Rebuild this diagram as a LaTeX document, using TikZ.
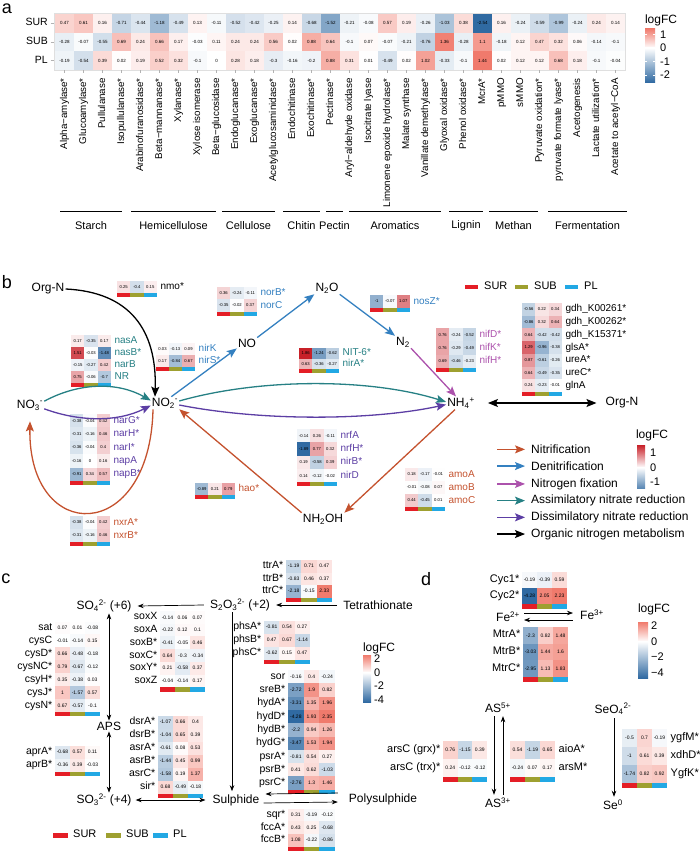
\documentclass[tikz,border=0pt]{standalone}
\usepackage{fontspec}
\setmainfont{Liberation Sans}
\usetikzlibrary{arrows.meta,calc}

\definecolor{nitrc}{RGB}{196,82,46}
\definecolor{denitc}{RGB}{52,128,192}
\definecolor{fixc}{RGB}{172,82,172}
\definecolor{assimc}{RGB}{38,128,132}
\definecolor{dissimc}{RGB}{92,62,164}
\definecolor{surc}{RGB}{228,30,38}
\definecolor{subc}{RGB}{158,160,48}
\definecolor{plc}{RGB}{34,168,228}
\definecolor{palered}{RGB}{240,122,108}
\definecolor{deepred}{RGB}{200,32,40}
\definecolor{steelb}{RGB}{48,106,162}

\newcommand{\hmcell}[5]{%
  \pgfmathtruncatemacro\hmisneg{(#5)<0}%
  \ifnum\hmisneg=1
    \pgfmathsetmacro\hmpct{min(100,100*abs(#5)/\hmnegmax)}%
    \colorlet{cellc}{hmneg!\hmpct!white}%
  \else
    \pgfmathsetmacro\hmpct{min(100,100*abs(#5)/\hmposmax)}%
    \colorlet{cellc}{hmpos!\hmpct!white}%
  \fi
  \fill[cellc] ({#1},{#2}) rectangle ++(#3,#4);
  \node[cellnum] at ({#1+#3/2},{#2+#4/2}) {#5};
}

% x, y, cell width, cell height, label side (l/r), label colour, rows
\newcommand{\genemap}[7]{%
  \foreach \gn/\va/\vb/\vc [count=\ri from 0] in {#7}{
    \hmcell{#1}{#2+\ri*#4}{#3}{#4}{\va}
    \hmcell{#1+#3}{#2+\ri*#4}{#3}{#4}{\vb}
    \hmcell{#1+2*#3}{#2+\ri*#4}{#3}{#4}{\vc}
    \ifx l#5
      \node[genelbl,text=#6,anchor=mid east] at ({#1-1.5},{#2+\ri*#4+#4/2}) {\gn};
    \else
      \node[genelbl,text=#6,anchor=mid west] at ({#1+3*#3+2.5},{#2+\ri*#4+#4/2}) {\gn};
    \fi
    \xdef\hmlast{\ri}
  }
  \pgfmathsetmacro\hmsy{#2+(\hmlast+1)*#4}
  \fill[surc] ({#1},\hmsy) rectangle ++(#3,\hmstrip);
  \fill[subc] ({#1+#3},\hmsy) rectangle ++(#3,\hmstrip);
  \fill[plc] ({#1+2*#3},\hmsy) rectangle ++(#3,\hmstrip);
}

\tikzset{
  every node/.style={inner sep=1pt},
  plab/.style={font=\fontsize{18}{19}\selectfont},
  spec/.style={font=\fontsize{12}{13}\selectfont},
  legtxt/.style={font=\fontsize{12}{13}\selectfont},
  smalltxt/.style={font=\fontsize{11}{12}\selectfont},
  barrow/.style={line width=1.3pt,-{Stealth[length=10pt,width=8pt,inset=2pt]}},
  bdarrow/.style={line width=1.3pt,{Stealth[length=10pt,width=8pt,inset=2pt]}-{Stealth[length=10pt,width=8pt,inset=2pt]}},
  carrow/.style={line width=0.7pt,-{Stealth[length=6pt,width=4.5pt]}},
  cdarrow/.style={line width=0.7pt,{Stealth[length=6pt,width=4.5pt]}-{Stealth[length=6pt,width=4.5pt]}}
}

\begin{document}
\begin{tikzpicture}[x=1pt,y=-1pt]
\useasboundingbox (0,0) rectangle (700,853);

% ---------------- a
\node[plab] (la) at (7,9) {a};
\begin{scope}[cellnum/.style={font=\fontsize{4.5}{5}\selectfont},
  collbl/.style={font=\fontsize{9.8}{10}\selectfont,rotate=90,anchor=mid east}]
\def\hmposmax{1.44}\def\hmnegmax{2.54}
\colorlet{hmpos}{palered}\colorlet{hmneg}{steelb}
\draw[gray!25,fill=gray!10] (54.5,13.5) rectangle (625.5,70.3);
\foreach \lab/\vs/\vu/\vp [count=\i from 0] in {
  Alpha−amylase*/0.47/-0.28/-0.19, Glucoamylase*/0.61/-0.07/-0.54, Pullulanase/0.16/-0.55/0.39,
  Isopullulanase*/-0.71/0.69/0.02, Arabinofuranosidase*/-0.44/0.24/0.19, Beta−mannanase*/-1.18/0.66/0.52,
  Xylanase*/-0.49/0.17/0.32, Xylose isomerase/0.13/-0.03/-0.1, Beta−glucosidase/-0.11/0.11/0,
  Endoglucanase*/-0.52/0.24/0.28, Exoglucanase*/-0.42/0.24/0.18, Acetylglucosaminidase*/-0.25/0.56/-0.3,
  Endochitinase/0.14/0.02/-0.16, Exochitinase*/-0.68/0.88/-0.2, Pectinase*/-1.52/0.64/0.88,
  Aryl−aldehyde oxidase/-0.21/-0.1/0.31, Isocitrate lyase/-0.08/0.07/0.01, Limonene epoxide hydrolase*/0.57/-0.07/-0.49,
  Malate synthase/0.19/-0.21/0.02, Vanillate demethylase*/-0.26/-0.76/1.02, Glyoxal oxidase*/-1.03/1.36/-0.33,
  Phenol oxidase*/0.38/-0.28/-0.1, McrA*/-2.54/1.1/1.44, pMMO/0.16/-0.18/0.02,
  sMMO/-0.24/0.12/0.12, Pyruvate oxidation*/-0.59/0.47/0.12, pyruvate formate lyase*/-0.99/0.32/0.68,
  Acetogenesis/-0.24/0.06/0.18, Lactate utilization*/0.24/-0.14/-0.1, Acetate to acetyl−CoA/0.14/-0.1/-0.04}{
  \pgfmathsetmacro\cx{55+19*\i}
  \hmcell{\cx}{14}{19}{18.7}{\vs}
  \hmcell{\cx}{32.7}{19}{18.7}{\vu}
  \hmcell{\cx}{51.4}{19}{18.7}{\vp}
  \draw[gray!60] ({\cx+9.5},70.3) -- ++(0,3);
  \node[collbl] at ({\cx+9.5},77) {\lab};
}
\foreach \rl/\ry in {SUR/23.3,SUB/42,PL/60.7}{
  \node[font=\fontsize{10.5}{11}\selectfont,anchor=mid east] at (49,\ry) {\rl};
  \draw[gray!60] (50.5,\ry) -- (54,\ry);
}
\foreach \xa/\xb/\cat in {60/122/Starch,131/216/Hemicellulose,222/275/Cellulose,283/320/Chitin,
  326/343/Pectin,349/441/Aromatics,449/483/Lignin,489/538/Methan,548/627/Fermentation}{
  \draw[line width=0.7pt] (\xa,211) -- (\xb,211);
  \node[smalltxt] at ({(\xa+\xb)/2},226) {\cat};
}
% legend
\node[legtxt] (lgA) at (661,20) {logFC};
\shade[top color=palered,bottom color=white] (645,28.6) rectangle (655,48);
\shade[top color=white,bottom color=steelb] (645,48) rectangle (655,82.3);
\foreach \lv/\ly in {1/34.5,0/48,-1/61.5,-2/75}{
  \draw[white] (645,\ly) -- ++(2,0) (655,\ly) -- ++(-2,0);
  \node[smalltxt,anchor=west] at (659,\ly) {\lv};
}
\end{scope}

% ---------------- b
\node[plab] (lb) at (7,282) {b};
\begin{scope}[cellnum/.style={font=\fontsize{4.2}{5}\selectfont},
  genelbl/.style={font=\fontsize{10}{11}\selectfont}]
\def\hmposmax{1.86}\def\hmnegmax{1.89}\def\hmstrip{4}
\colorlet{hmpos}{deepred}\colorlet{hmneg}{steelb}
\genemap{117}{281}{13.3}{12}{r}{black}{nmo*/0.25/-0.4/0.15}
\genemap{217}{287}{13.3}{12.3}{r}{denitc}{norB*/0.36/-0.24/-0.11,norC/-0.35/-0.02/0.37}
\genemap{370}{295}{13.3}{13}{r}{denitc}{nosZ*/-1/-0.07/1.07}
\genemap{156}{343}{13}{12}{r}{denitc}{nirK/0.03/-0.13/0.09,nirS*/0.17/-0.84/0.67}
\genemap{71}{335}{13.3}{12}{r}{assimc}{nasA/0.17/-0.35/0.17,nasB*/1.51/-0.03/-1.48,narB/-0.15/-0.27/0.42,NR/0.75/-0.06/-0.7}
\genemap{299}{348}{13.3}{10.5}{r}{assimc}{NIT-6*/1.86/-1.24/-0.62,nirA*/0.63/-0.36/-0.27}
\genemap{70}{414}{13.3}{13.4}{r}{dissimc}{narG*/-0.38/-0.04/0.42,narH*/-0.31/-0.16/0.46,narI*/-0.36/-0.04/0.4,napA/-0.16/0/0.16,napB*/-0.91/0.34/0.57}
\genemap{70}{516}{13.3}{13}{r}{nitrc}{nxrA*/-0.38/-0.04/0.42,nxrB*/-0.31/-0.16/0.46}
\genemap{195}{483}{13.3}{12}{r}{nitrc}{hao*/-0.89/0.21/0.79}
\genemap{297}{429}{13.3}{13.3}{r}{dissimc}{nrfA/-0.14/0.26/-0.11,nrfH*/-1.89/0.77/0.32,nirB*/0.19/-0.58/0.39,nirD/0.14/-0.12/-0.02}
\genemap{405}{468}{13.3}{13}{r}{nitrc}{amoA/0.18/-0.17/-0.01,amoB/-0.01/-0.08/0.07,amoC/0.44/-0.45/0.01}
\genemap{436}{328}{13.3}{13.3}{r}{fixc}{nifD*/0.76/-0.24/-0.52,nifK*/0.76/-0.29/-0.49,nifH*/0.69/-0.46/-0.23}
\genemap{522}{303}{13.3}{12.7}{r}{black}{gdh\_K00261*/-0.56/0.22/0.34,gdh\_K00262*/-0.86/0.32/0.64,gdh\_K15371*/0.64/-0.42/-0.42,glsA*/1.29/-0.96/-0.38,ureA*/0.87/-0.61/-0.26,ureC*/0.64/-0.49/-0.35,glnA/0.24/-0.23/-0.01}
\end{scope}

\node[spec] (orgN) at (48,289) {Org-N};
\node[spec] (no3) at (30,405) {NO\textsubscript{3}\textsuperscript{-}};
\node[spec] (no2) at (165,403) {NO\textsubscript{2}\textsuperscript{-}};
\node[spec] (no) at (247,343) {NO};
\node[spec] (n2o) at (327,288) {N\textsubscript{2}O};
\node[spec] (n2) at (403,342) {N\textsubscript{2}};
\node[spec] (nh4) at (461,403) {NH\textsubscript{4}\textsuperscript{+}};
\node[spec] (orgNb) at (622,403) {Org-N};
\node[spec] (nh2oh) at (323,519) {NH\textsubscript{2}OH};

\draw[barrow] (orgN.east) .. controls (130,292) and (157,330) .. ([xshift=-10pt]no2.north);
\draw[barrow,assimc] (no3.15) .. controls (80,382) and (118,382) .. (no2.170);
\draw[barrow,dissimc] (no3.-15) .. controls (80,422) and (118,422) .. (no2.190);
\draw[barrow,denitc] (no2.45) -- (no.south west);
\draw[barrow,denitc] (no.north east) -- (n2o.south west);
\draw[barrow,denitc] (n2o.south east) -- (n2.north west);
\draw[barrow,fixc] (n2.south east) -- ([xshift=-5pt]nh4.north);
\draw[barrow,assimc] (no2.8) .. controls (260,378) and (370,378) .. (nh4.176);
\draw[barrow,dissimc] (no2.-8) .. controls (260,421) and (370,421) .. (nh4.-174);
\draw[bdarrow] ([xshift=12pt]nh4.east) -- ([xshift=-8pt]orgNb.west);
\draw[barrow,nitrc] ([xshift=-6pt]nh4.south) -- (nh2oh.north east);
\draw[barrow,nitrc] (nh2oh.north west) -- (no2.south east);
\draw[barrow,nitrc] ([xshift=-12pt]no2.south) .. controls (150,545) and (28,545) .. ([yshift=-10pt]no3.south);

% legends
\foreach \bc/\bt/\bx in {surc/SUR/465,subc/SUB/515,plc/PL/565}{
  \fill[\bc] (\bx,285) rectangle ++(13,4);
  \node[smalltxt,anchor=mid west] at ({\bx+18},287) {\bt};
}
\foreach \cc/\lt [count=\k from 0] in {nitrc/Nitrification,denitc/Denitrification,fixc/Nitrogen fixation,
  assimc/Assimilatory nitrate reduction,dissimc/Dissimilatory nitrate reduction,black/Organic nitrogen metabolism}{
  \node[legtxt,anchor=mid west] (leg\k) at (530,{451+16.7*\k}) {\lt};
  \draw[barrow,\cc] ($(leg\k.west)+(-33,0)$) -- ($(leg\k.west)+(-5,0)$);
}
\node[legtxt] (lgB) at (652,435) {logFC};
\shade[top color=deepred,bottom color=white] (637,445) rectangle (645,467.5);
\shade[top color=white,bottom color=steelb!80!white] (645,467.5) rectangle (637,488);
\foreach \lv/\ly in {1/453,0/467.5,-1/481.5}{
  \node[smalltxt,anchor=west] at (649,\ly) {\lv};
}

% ---------------- c
\node[plab] (lc) at (6,579) {c};
\begin{scope}[cellnum/.style={font=\fontsize{5}{6}\selectfont},
  genelbl/.style={font=\fontsize{10.5}{11}\selectfont}]
\def\hmposmax{2.35}\def\hmnegmax{4.28}\def\hmstrip{4.5}
\colorlet{hmpos}{palered}\colorlet{hmneg}{steelb}
\genemap{286}{560}{15.3}{12.5}{l}{black}{ttrA*/-1.19/0.71/0.47,ttrB*/-0.83/0.46/0.37,ttrC*/-2.18/-0.15/2.33}
\genemap{264}{620.5}{15.3}{13}{l}{black}{phsA*/-0.81/0.54/0.27,phsB*/0.47/0.67/-1.14,phsC*/-0.62/0.15/0.47}
\genemap{288}{670}{15.7}{13.3}{l}{black}{sor/-0.16/0.4/-0.24,sreB*/-2.72/1.9/0.82,hydA*/-3.31/1.35/1.96,hydD*/-4.28/1.93/2.35,hydB*/-2.2/0.94/1.26,hydG*/-3.47/1.53/1.94,psrA*/-0.81/0.54/0.27,psrB*/0.41/0.62/-1.03,psrC*/-2.76/1.3/1.46}
\genemap{288}{808.5}{15.7}{12.7}{l}{black}{sqr*/0.31/-0.19/-0.12,fccA*/0.43/0.25/-0.68,fccB*/1.08/-0.22/-0.86}
\genemap{160}{611}{15}{12.7}{l}{black}{soxX/-0.14/0.06/0.07,soxA/-0.22/0.12/0.1,soxB*/-0.41/-0.05/0.46,soxC*/0.64/-0.3/-0.34,soxY*/0.21/-0.58/0.37,soxZ/-0.04/-0.14/0.17}
\genemap{55}{621.5}{15}{12.9}{l}{black}{sat/0.07/0.01/-0.08,cysC/-0.01/-0.14/0.15,cysD*/0.66/-0.48/-0.18,cysNC*/0.79/-0.67/-0.12,csyH*/0.35/-0.38/0.03,cysJ*/1/-1.57/0.57,cysN*/0.67/-0.57/-0.1}
\genemap{55}{745.5}{15}{13}{l}{black}{aprA*/-0.68/0.57/0.11,aprB*/-0.36/0.39/-0.03}
\genemap{158}{715.5}{15}{13}{l}{black}{dsrA*/-1.07/0.66/0.4,dsrB*/-1.04/0.65/0.39,asrA*/-0.61/0.08/0.53,asrB*/-1.44/0.45/0.99,asrC*/-1.58/0.19/1.37,sir*/0.68/-0.49/-0.18}
\end{scope}

\node[spec] (so4) at (104,606) {SO\textsubscript{4}\textsuperscript{2-} (+6)};
\node[spec] (s2o3) at (240,605) {S\textsubscript{2}O\textsubscript{3}\textsuperscript{2-} (+2)};
\node[spec] (tetra) at (378,605) {Tetrathionate};
\node[spec] (aps) at (109,726) {APS};
\node[spec] (so3) at (104,800) {SO\textsubscript{3}\textsuperscript{2-} (+4)};
\node[spec] (sulph) at (236,800) {Sulphide};
\node[spec] (poly) at (383,799) {Polysulphide};

\draw[carrow] ($(s2o3.west)+(-5,0)$) -- ($(so4.east)+(5,0)$);
\draw[carrow] ($(tetra.west)+(-5,0)$) -- ($(s2o3.east)+(5,0)$);
\draw[cdarrow] (aps.north |- so4.south) -- (aps.north);
\draw[cdarrow] (aps.south) -- (aps.south |- so3.north);
\draw[carrow] ($(s2o3.south)+(-8,0)$) -- ($(s2o3.south |- sulph.north)+(-8,-2)$);
\draw[cdarrow] ($(so3.east)+(3,0)$) -- ($(sulph.west)+(-6,0)$);
\draw[carrow] ($(poly.west)+(-10,-6)$) -- ($(sulph.east)+(5,-6)$);
\draw[carrow] ($(sulph.east)+(3,3)$) -- ($(poly.west)+(-10,3)$);

\foreach \bc/\bt/\bx in {surc/SUR/53,subc/SUB/106,plc/PL/153}{
  \fill[\bc] (\bx,832.5) rectangle ++(15,5);
  \node[smalltxt,anchor=mid west] at ({\bx+19},835) {\bt};
}
\node[legtxt] (lgC) at (379,648) {logFC};
\shade[top color=palered,bottom color=white] (363,655) rectangle (371,672.5);
\shade[top color=white,bottom color=steelb] (363,672.5) rectangle (371,702);
\foreach \lv/\ly in {2/659,0/672.5,-2/686,-4/699.5}{
  \node[smalltxt,anchor=west] at (373,\ly) {\lv};
}

% ---------------- d
\node[plab] (ld) at (426,579) {d};
\begin{scope}[cellnum/.style={font=\fontsize{5}{6}\selectfont},
  genelbl/.style={font=\fontsize{11}{12}\selectfont}]
\def\hmposmax{2.23}\def\hmnegmax{4.28}\def\hmstrip{4.5}
\colorlet{hmpos}{palered}\colorlet{hmneg}{steelb}
\genemap{522}{572}{15}{16}{l}{black}{Cyc1*/-0.19/-0.39/0.59,Cyc2*/-4.28/2.05/2.23}
\genemap{523}{627}{15}{16.7}{l}{black}{MtrA*/-2.3/0.82/1.48,MtrB*/-3.03/1.44/1.6,MtrC*/-2.95/1.13/1.83}
\genemap{443}{741}{14.7}{18}{l}{black}{arsC (grx)*/0.76/-1.15/0.39,arsC (trx)*/0.24/-0.12/-0.12}
\genemap{510}{741}{15}{18}{r}{black}{aioA*/0.54/-1.19/0.65,arsM*/-0.24/0.07/0.17}
\genemap{622}{729}{15}{18}{r}{black}{ygfM*/-0.5/0.7/-0.19,xdhD*/-1/0.61/0.39,YgfK*/-1.74/0.82/0.92}
\end{scope}

\node[spec] (fe2) at (508,617) {Fe\textsuperscript{2+}};
\node[spec] (fe3) at (592,615) {Fe\textsuperscript{3+}};
\node[spec] (as5) at (498,708) {AS\textsuperscript{5+}};
\node[spec] (as3) at (498,803) {AS\textsuperscript{3+}};
\node[spec] (seo4) at (613,709) {SeO\textsubscript{4}\textsuperscript{2-}};
\node[spec] (se0) at (613,805) {Se\textsuperscript{0}};

\draw[carrow] ($(fe2.east)+(3,-4)$) -- ($(fe3.west)+(-6,-2)$);
\draw[carrow] ($(fe3.west)+(-6,5)$) -- ($(fe2.east)+(3,3)$);
\draw[carrow] ($(as5.south)+(-4,2)$) -- ($(as3.north)+(-4,-2)$);
\draw[carrow] ($(as3.north)+(5,-2)$) -- ($(as5.south)+(5,2)$);
\draw[carrow] ($(seo4.south)+(1,2)$) -- ($(se0.north)+(1,-2)$);

\node[legtxt] (lgD) at (654,609) {logFC};
\shade[top color=palered,bottom color=white] (638,622) rectangle (648,641.5);
\shade[top color=white,bottom color=steelb] (638,641.5) rectangle (648,678);
\foreach \lv/\ly in {2/626,0/641.5,−2/657,−4/672.5}{
  \node[smalltxt,anchor=west] at (650,\ly) {\lv};
}
\end{tikzpicture}
\end{document}
